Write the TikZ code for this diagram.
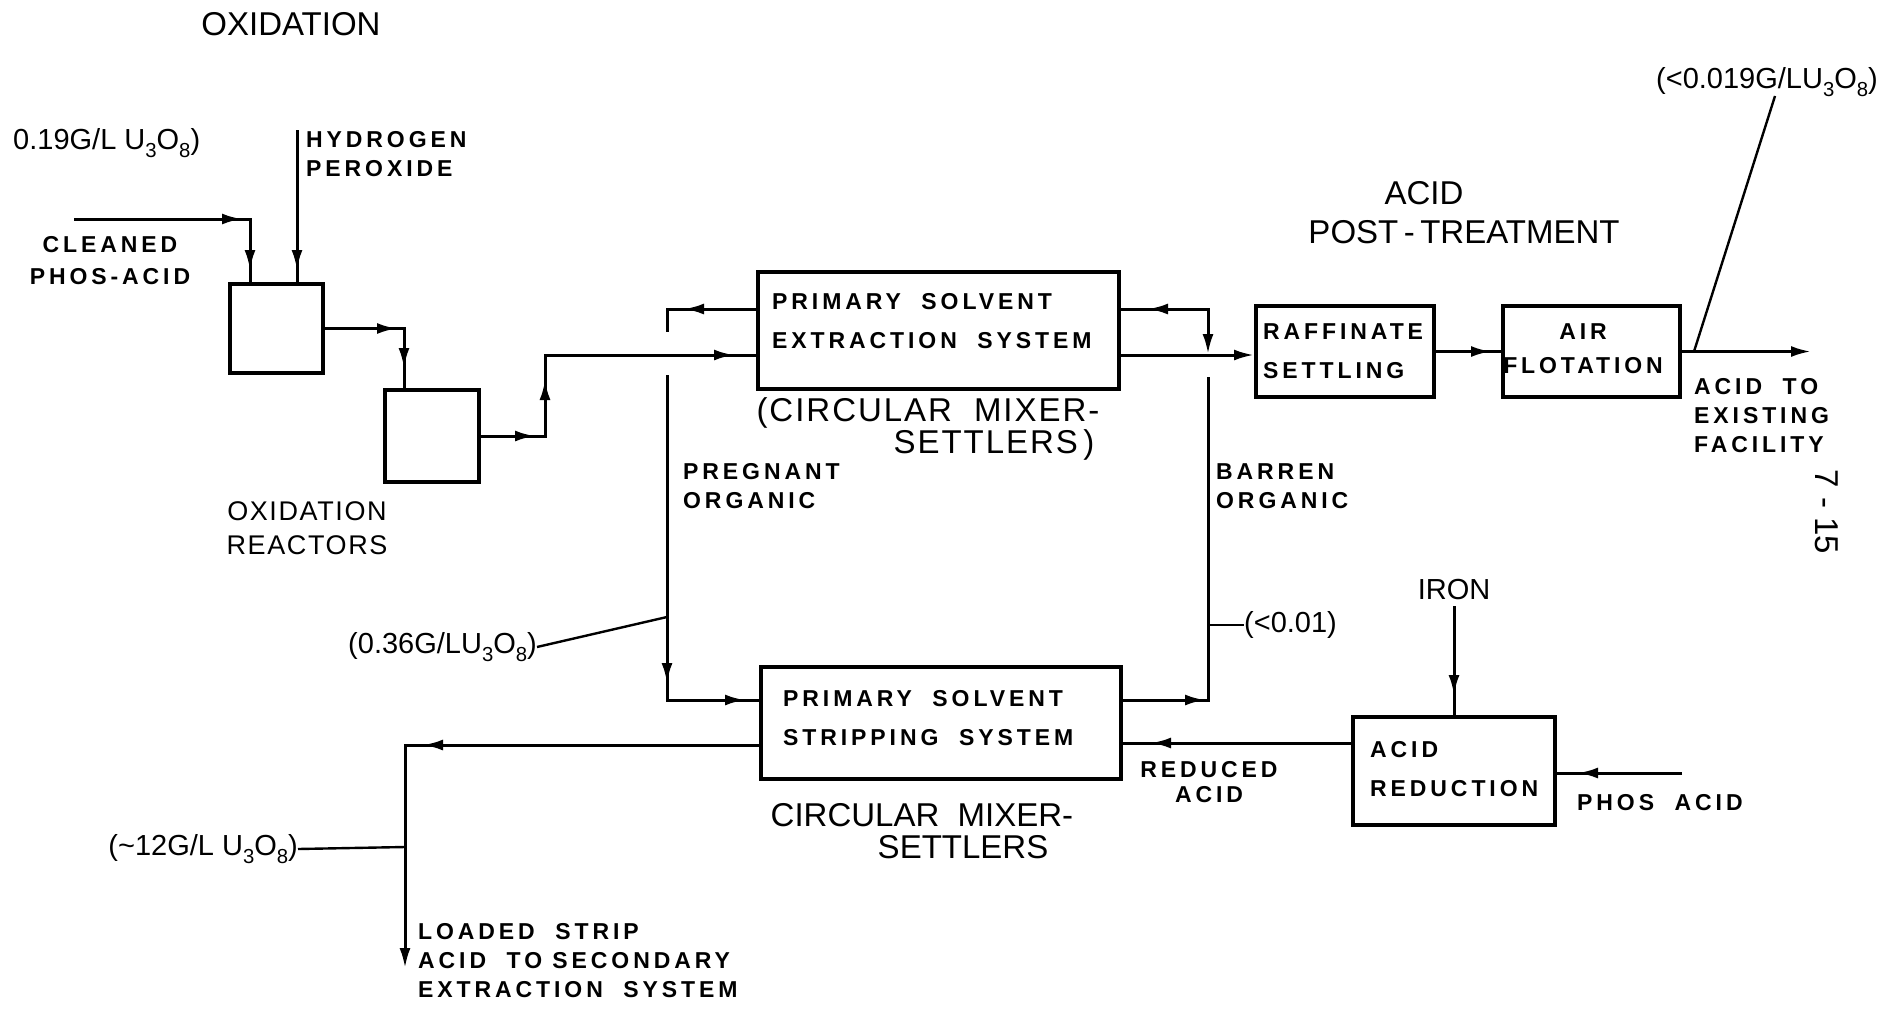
\documentclass[tikz,border=0pt]{standalone}
\usepackage{fontspec}
\usepackage{graphicx}
\setmainfont{Liberation Sans}
\newfontfamily\lettfam{Liberation Sans}[LetterSpace=17]
\newfontfamily\spfam{Liberation Sans}[LetterSpace=6]
\usetikzlibrary{arrows.meta,decorations.markings,calc}
\newcommand\smtxt{\lettfam\bfseries\fontsize{23pt}{29pt}\selectfont}
\newcommand\bxtxt{\lettfam\bfseries\fontsize{23pt}{39pt}\selectfont}
\newcommand\bigtxt{\rmfamily\fontsize{33pt}{38pt}\selectfont}
\newcommand\mdtxt{\rmfamily\fontsize{29pt}{34pt}\selectfont}
\newcommand\lowsub[1]{\raisebox{-0.3em}{\scalebox{0.7}{#1}}}
\begin{document}
\begin{tikzpicture}[x=1pt,y=-1pt,>={Latex[length=20pt,width=11pt]},
  flow/.style={line width=3pt},
  leadr/.style={line width=2.4pt},
  ar/.style={postaction={decorate,decoration={markings,mark=at position #1 with {\arrow{>}}}}},
  ra/.style={postaction={decorate,decoration={markings,mark=at position #1 with {\arrow{<}}}}},
  unitbox/.style={draw,line width=4pt,inner sep=0pt},
  txt/.style={inner sep=0pt}]
\fill[white] (0,0) rectangle (1898,1010);
\useasboundingbox (0,0) rectangle (1898,1010);

% process units
\node[unitbox,minimum width=93pt,minimum height=89pt] (R1) at (276.5,328.5) {};
\node[unitbox,minimum width=94pt,minimum height=92pt] (R2) at (432,436) {};
\node[unitbox,minimum width=361pt,minimum height=117pt] (EX) at (938.5,330.5) {};
\node[unitbox,minimum width=360pt,minimum height=112pt] (ST) at (941,723) {};
\node[unitbox,minimum width=178pt,minimum height=91pt] (RS) at (1345,351.5) {};
\node[unitbox,minimum width=177pt,minimum height=91pt] (AF) at (1591.5,351.5) {};
\node[unitbox,minimum width=202pt,minimum height=108pt] (AR) at (1454,771) {};

% box texts
\node[txt,anchor=west,align=left,font=\bxtxt] (EXt) at (772,321) {PRIMARY\ \ SOLVENT\\EXTRACTION\ \ SYSTEM};
\node[txt,anchor=west,align=left,font=\bxtxt] (STt) at (783,718.5) {PRIMARY\ \ SOLVENT\\STRIPPING\ \ SYSTEM};
\node[txt,anchor=west,align=left,font=\bxtxt] (RSt) at (1263,351.5) {RAFFINATE\\SETTLING};
\node[txt,align=center,font={\lettfam\bfseries\fontsize{23pt}{34pt}\selectfont}] (AFt) at (1583,349) {AIR\\FLOTATION};
\node[txt,anchor=west,align=left,font=\bxtxt] (ARt) at (1370,769.5) {ACID\\REDUCTION};

% labels
\node[txt,font=\bigtxt] (OXT) at (291,24) {OXIDATION};
\node[txt,anchor=west,font=\mdtxt] (L019b) at (13,143) {0.19G/L U\lowsub{3}O\lowsub{8})};
\node[txt,anchor=west,align=left,font=\smtxt] (HP) at (306,154) {HYDROGEN\\PEROXIDE};
\node[txt,align=center,font={\lettfam\bfseries\fontsize{23pt}{32pt}\selectfont}] (CL) at (110,261) {CLEANED\\PHOS-ACID};
\node[txt,align=center,font={\spfam\fontsize{27pt}{34pt}\selectfont}] (ORL) at (307,528) {OXIDATION\\REACTORS};
\node[txt,font={\spfam\fontsize{33pt}{38pt}\selectfont}] (CM1a) at (928,413) {(CIRCULAR\hspace{22pt}MIXER-};
\node[txt,font={\spfam\fontsize{33pt}{38pt}\selectfont}] (CM1b) at (994,445) {SETTLERS\,)};
\node[txt,anchor=west,align=left,font=\smtxt] (PREG) at (683,486) {PREGNANT\\ORGANIC};
\node[txt,anchor=west,align=left,font=\smtxt] (BARR) at (1216,486) {BARREN\\ORGANIC};
\node[txt,anchor=east,font=\mdtxt] (L036) at (537,647) {(0.36G/LU\lowsub{3}O\lowsub{8})};
\node[txt,font=\bigtxt] (CM2a) at (922,815) {CIRCULAR\ \ MIXER-};
\node[txt,font=\bigtxt] (CM2b) at (963,847) {SETTLERS};
\node[txt,anchor=east,font=\mdtxt] (L12) at (298,849) {(\textasciitilde12G/L U\lowsub{3}O\lowsub{8})};
\node[txt,anchor=west,align=left,font=\smtxt] (LOAD) at (418,961) {LOADED\ \ STRIP\\ACID\ \ TO SECONDARY\\EXTRACTION\ \ SYSTEM};
\node[txt,anchor=west,font=\mdtxt] (L001) at (1244,625) {(<0.01)};
\node[txt,font=\mdtxt] (IRON) at (1454,590) {IRON};
\node[txt,align=center,font={\lettfam\bfseries\fontsize{23pt}{25pt}\selectfont}] (RED) at (1209,782) {REDUCED\\ACID};
\node[txt,anchor=west,font=\smtxt] (PHOS) at (1577,803) {PHOS\ \ ACID};
\node[txt,font=\bigtxt] (ACID) at (1424,193) {ACID};
\node[txt,font=\bigtxt] (POST) at (1464,232) {POST\,-\,TREATMENT};
\node[txt,anchor=west,font=\mdtxt] (L019) at (1656,82) {(<0.019G/LU\lowsub{3}O\lowsub{8})};
\node[txt,anchor=west,align=left,font=\smtxt] (ACTO) at (1694,416) {ACID\ \ TO\\EXISTING\\FACILITY};
\node[txt,rotate=-90,font=\bigtxt] (PG) at (1827,512) {7 - 15};

% oxidation feeds
\coordinate (cf) at (74,219);
\draw[flow,ar=168pt,ar=-12pt] (cf) -| ($(R1.north west)+(22,0)$);
\coordinate (hp) at (297,130);
\draw[flow,ar=-12pt] (hp) -- (hp |- R1.north);
\draw[flow,ar=72pt,ar=-20pt] (R1.east) -| ($(R2.north west)+(21,0)$);
\coordinate (c1) at (545,355);
\draw[flow,ar=54pt,ar=120pt,ar=-22pt] (R2.east) -| (c1) -- (c1 -| EX.west);

% pregnant organic
\coordinate (p1) at (667,309);
\coordinate (p2) at (667,332);
\coordinate (p3) at (667,375);
\coordinate (p4) at (667,700);
\draw[flow,ar=72pt] (p1 -| EX.west) -- (p1) -- (p2);
\draw[flow,ar=308pt,ar=-14pt] (p3) -- (p4) -- (p4 -| ST.west);
\coordinate (p5) at (667,617);
\draw[leadr] (L036.east) -- (p5);

% loaded strip acid
\coordinate (s1) at (405,745);
\coordinate (s2) at (405,968);
\draw[flow,->,ar=336pt] (s1 -| ST.west) -- (s1) -- (s2);
\coordinate (s3) at (405,847);
\draw[leadr] (L12.east) -- (s3);

% barren organic
\coordinate (b1) at (1208,700);
\coordinate (b2) at (1208,377);
\coordinate (b3) at (1208,336);
\coordinate (b4) at (1208,309);
\draw[flow,ar=82pt] (b1 -| ST.east) -- (b1) -- (b2);
\draw[flow,ra=2pt,ar=87pt] (b3) -- (b4) -- (b4 -| EX.east);
\coordinate (b5) at (1208,625);
\draw[leadr] (b5) -- (L001.west);

% raffinate line
\draw[flow,->] (EX.east |- c1) -- (RS.west |- c1);
\draw[flow,ar=-10pt] (RS.east) -- (AF.west);
\coordinate (o1) at (1811,351.5);
\draw[flow,->] (AF.east) -- (o1);
\coordinate (o2) at (1694,351.5);
\coordinate (o3) at (1775,96);
\draw[leadr] (o2) -- (o3);

% acid reduction
\draw[flow,ar=-20pt,shorten <=6pt] (IRON.south) -- (AR.north);
\coordinate (r1) at (1353,743);
\draw[flow,ar=200pt] (r1 -| AR.west) -- (r1 -| ST.east);
\coordinate (ph) at (1682,773);
\draw[flow,ar=104pt] (ph) -- (ph -| AR.east);
\end{tikzpicture}
\end{document}
